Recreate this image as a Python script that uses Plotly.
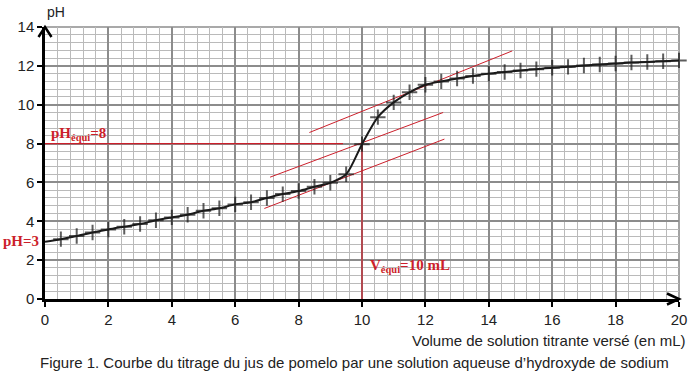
import plotly.graph_objects as go

# ---- data ----
volume_mL = [0, 0.5, 1, 1.5, 2, 2.5, 3, 3.5, 4, 4.5, 5, 5.5, 6, 6.5, 7, 7.5, 8, 8.5, 9, 9.5,
             10, 10.5, 11, 11.5, 12, 12.5, 13, 13.5, 14, 14.5, 15, 15.5, 16, 16.5, 17, 17.5,
             18, 18.5, 19, 19.5, 20]
pH_values = [2.95, 3.08, 3.24, 3.42, 3.58, 3.72, 3.86, 4.05, 4.2, 4.34, 4.54, 4.67, 4.87, 4.98,
             5.2, 5.4, 5.56, 5.78, 5.98, 6.42, 7.97, 9.36, 10.12, 10.64, 11.03, 11.2, 11.35,
             11.48, 11.6, 11.68, 11.76, 11.83, 11.9, 11.95, 12.02, 12.07, 12.12, 12.17, 12.2,
             12.24, 12.28]

# tangent lines (parallel-tangent method): [x_start, x_end], [pH_start, pH_end]
tangent_upper_x = [8.34, 14.74]
tangent_upper_y = [8.57, 12.77]
tangent_mid_x = [7.1, 12.56]
tangent_mid_y = [6.27, 9.6]
tangent_low_x = [6.92, 12.6]
tangent_low_y = [4.66, 8.23]

pH_equi = 8
V_equi = 10
pH_initial = 3
hline_x = [0, 9.4]
vline_y = [0, 8]

x_ticks = [0, 2, 4, 6, 8, 10, 12, 14, 16, 18, 20]
y_ticks = [0, 2, 4, 6, 8, 10, 12, 14]

RED = "#cc1f2b"
SANS = "Liberation Sans, Arial, sans-serif"
NARROW = "Liberation Sans Narrow, Arial Narrow, Liberation Sans, sans-serif"
SERIF = "Liberation Serif, Times New Roman, serif"

W, H = 692, 375
L, R, T, B = 45, 13, 27, 76
pw, ph = W - L - R, H - T - B

fig = go.Figure()

# tangents
for tx, ty in [(tangent_upper_x, tangent_upper_y), (tangent_mid_x, tangent_mid_y), (tangent_low_x, tangent_low_y)]:
    fig.add_trace(go.Scatter(x=tx, y=ty, mode="lines", line=dict(color=RED, width=1),
                             hoverinfo="skip", showlegend=False))

# equivalence guides
fig.add_trace(go.Scatter(x=hline_x, y=[pH_equi, pH_equi], mode="lines",
                         line=dict(color=RED, width=1.2), hoverinfo="skip", showlegend=False))
fig.add_trace(go.Scatter(x=[V_equi, V_equi], y=vline_y, mode="lines",
                         line=dict(color=RED, width=1.2), hoverinfo="skip", showlegend=False))

# titration curve
fig.add_trace(go.Scatter(
    x=volume_mL, y=pH_values, mode="lines+markers",
    line=dict(color="#1a1a1a", width=2, shape="spline", smoothing=0.8),
    marker=dict(symbol="cross-thin", size=[0] + [11] * (len(volume_mL) - 1),
                line=dict(color="#1a1a1a", width=2), color="#1a1a1a"),
    cliponaxis=False, showlegend=False))

grid_major = "#8c8c8c"
grid_minor = "#bababa"

fig.update_xaxes(range=[0, 20], tickvals=x_ticks, ticktext=[str(v) for v in x_ticks],
                 showgrid=True, gridcolor=grid_major, gridwidth=1.6,
                 minor=dict(dtick=0.4, tick0=0, showgrid=True, gridcolor=grid_minor, gridwidth=1.3),
                 showline=True, linecolor="black", linewidth=2.5,
                 ticks="outside", ticklen=5, tickwidth=2, tickcolor="black",
                 tickfont=dict(family=NARROW, size=15, color="#222"),
                 zeroline=False, fixedrange=True, automargin=False)
fig.update_yaxes(range=[0, 14], tickvals=y_ticks, ticktext=[str(v) for v in y_ticks],
                 showgrid=True, gridcolor=grid_major, gridwidth=1.6,
                 minor=dict(dtick=0.4, tick0=0, showgrid=True, gridcolor=grid_minor, gridwidth=1.3),
                 showline=True, linecolor="black", linewidth=2.5,
                 ticks="outside", ticklen=5, tickwidth=2, tickcolor="black",
                 tickfont=dict(family=SANS, size=15, color="#222"),
                 zeroline=False, fixedrange=True, automargin=False)

# outer border (top / right grid edges)
fig.add_shape(type="line", xref="paper", yref="paper", x0=0, x1=1, y0=1, y1=1,
              line=dict(color=grid_major, width=1.6), layer="below")
fig.add_shape(type="line", xref="paper", yref="paper", x0=1, x1=1, y0=0, y1=1,
              line=dict(color=grid_major, width=1.6), layer="below")

# axis arrow heads (chevrons), in paper units derived from pixel sizes
ax_w, ax_h = 6.5 / pw, 10 / ph
fig.add_shape(type="path", xref="paper", yref="paper",
              path=f"M {-ax_w},{1 - ax_h} L 0,1 L {ax_w},{1 - ax_h}",
              line=dict(color="black", width=2.5))
bx_w, bx_h = 12 / pw, 5.5 / ph
fig.add_shape(type="path", xref="paper", yref="paper",
              path=f"M {1 - bx_w},{bx_h} L 1,0 L {1 - bx_w},{-bx_h}",
              line=dict(color="black", width=2.5))

annotations = [
    dict(text="pH", xref="paper", yref="paper", x=0.0, y=(H - B - 12) / ph,
         xanchor="left", yanchor="middle", showarrow=False,
         font=dict(family=SANS, size=14, color="#222")),
    dict(text="Volume de solution titrante versé (en mL)", xref="paper", yref="paper",
         x=(687 - L) / pw, y=(H - B - 340) / ph, xanchor="right", yanchor="middle",
         showarrow=False, font=dict(family=SANS, size=15, color="#222")),
    dict(text="Figure 1. Courbe du titrage du jus de pomelo par une solution aqueuse d’hydroxyde de sodium",
         xref="paper", yref="paper", x=(354 - L) / pw, y=(H - B - 362) / ph,
         xanchor="center", yanchor="middle", showarrow=False,
         font=dict(family=SANS, size=15, color="#222")),
    dict(text=f"<b>pH={pH_initial}</b>", xref="x", yref="y", x=0, y=pH_initial,
         xanchor="right", yanchor="middle", xshift=-4, showarrow=False,
         font=dict(family=SERIF, size=15, color=RED)),
    dict(text=f"<b>pH<sub>équi</sub>={pH_equi}</b>", xref="x", yref="y", x=0.12, y=pH_equi,
         xanchor="left", yanchor="bottom", yshift=-1, showarrow=False,
         font=dict(family=SERIF, size=15, color=RED)),
    dict(text=f"<b>V<sub>équi</sub>={V_equi} mL</b>", xref="x", yref="y", x=10.18, y=1.7,
         xanchor="left", yanchor="middle", showarrow=False,
         font=dict(family=SERIF, size=15, color=RED)),
]

fig.update_layout(width=W, height=H, margin=dict(l=L, r=R, t=T, b=B, autoexpand=False),
                  paper_bgcolor="white", plot_bgcolor="white",
                  annotations=annotations, showlegend=False)

fig.write_html("out.html", config={"displayModeBar": False},
               post_script="document.body.style.margin='0';document.body.style.padding='0';")
